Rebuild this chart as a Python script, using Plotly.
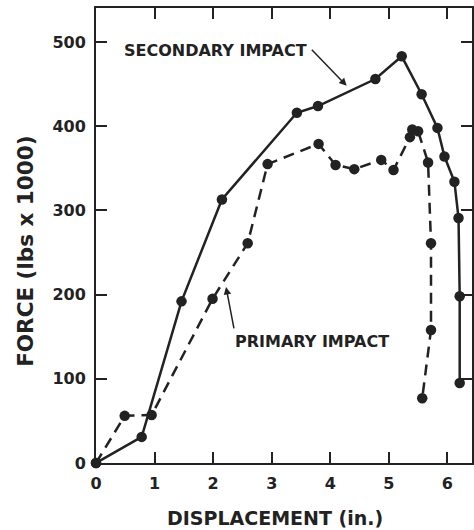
import plotly.graph_objects as go

# Secondary impact (solid line)
secondary_disp = [0.0, 0.78, 1.46, 2.15, 3.43, 3.79, 4.77, 5.22, 5.56, 5.83, 5.95, 6.12, 6.19, 6.21, 6.21]
secondary_force = [0, 31, 192, 313, 416, 424, 456, 483, 438, 398, 364, 334, 291, 198, 95]

# Primary impact (dashed line)
primary_disp = [0.0, 0.49, 0.95, 1.99, 2.59, 2.93, 3.80, 4.09, 4.41, 4.87, 5.08, 5.36, 5.40, 5.50, 5.67, 5.72, 5.72, 5.57]
primary_force = [0, 56, 57, 195, 261, 355, 379, 354, 349, 360, 348, 387, 396, 394, 357, 261, 158, 77]

x_ticks = [0, 1, 2, 3, 4, 5, 6]
y_ticks = [0, 100, 200, 300, 400, 500]

INK = "#222222"
FONT = "DejaVu Sans"

fig = go.Figure()
fig.add_trace(go.Scatter(
    x=secondary_disp, y=secondary_force, mode="lines+markers",
    line=dict(color=INK, width=2.5),
    marker=dict(color=INK, size=10.5),
    cliponaxis=False, name="Secondary impact", showlegend=False,
))
fig.add_trace(go.Scatter(
    x=primary_disp, y=primary_force, mode="lines+markers",
    line=dict(color=INK, width=2.5, dash="11px,7px"),
    marker=dict(color=INK, size=10.5),
    cliponaxis=False, name="Primary impact", showlegend=False,
))

axis_common = dict(
    showgrid=False, zeroline=False, showline=True, linecolor=INK, linewidth=2,
    mirror="ticks", ticks="inside", ticklen=11, tickwidth=2, tickcolor=INK,
    tickfont=dict(family=FONT, size=16, color=INK, weight="bold"),
    ticklabelstandoff=5,
)

fig.update_xaxes(
    range=[0, 6.42], tickvals=x_ticks, ticktext=[str(v) for v in x_ticks],
    **axis_common,
)
fig.update_yaxes(
    range=[0, 540.4], tickvals=y_ticks, ticktext=[str(v) for v in y_ticks],
    **axis_common,
)

fig.update_layout(
    width=474, height=530,
    margin=dict(l=96, r=0, t=8, b=67),
    paper_bgcolor="white", plot_bgcolor="white",
    font=dict(family=FONT, color=INK),
    annotations=[
        # axis titles
        dict(x=0.475, y=-0.121, xref="paper", yref="paper", text="<b>DISPLACEMENT (in.)</b>",
             showarrow=False, xanchor="center", yanchor="middle",
             font=dict(family=FONT, size=19, color=INK)),
        dict(x=-0.1865, y=0.466, xref="paper", yref="paper", text="<b>FORCE (lbs x 1000)</b>",
             showarrow=False, xanchor="center", yanchor="middle", textangle=-90,
             font=dict(family=FONT, size=21.5, color=INK)),
        # series labels
        dict(x=2.04, y=490, xref="x", yref="y", text="<b>SECONDARY IMPACT</b>",
             showarrow=False, font=dict(family=FONT, size=16, color=INK)),
        dict(x=4.28, y=448, ax=3.66, ay=492.5, xref="x", yref="y", axref="x", ayref="y",
             text="", showarrow=True, arrowhead=2, arrowsize=1, arrowwidth=1.5, arrowcolor=INK),
        dict(x=3.68, y=144, xref="x", yref="y", text="<b>PRIMARY IMPACT</b>",
             showarrow=False, font=dict(family=FONT, size=16, color=INK)),
        dict(x=2.22, y=209, ax=2.36, ay=158, xref="x", yref="y", axref="x", ayref="y",
             text="", showarrow=True, arrowhead=2, arrowsize=1, arrowwidth=1.5, arrowcolor=INK),
    ],
)

fig.write_html("out.html")
